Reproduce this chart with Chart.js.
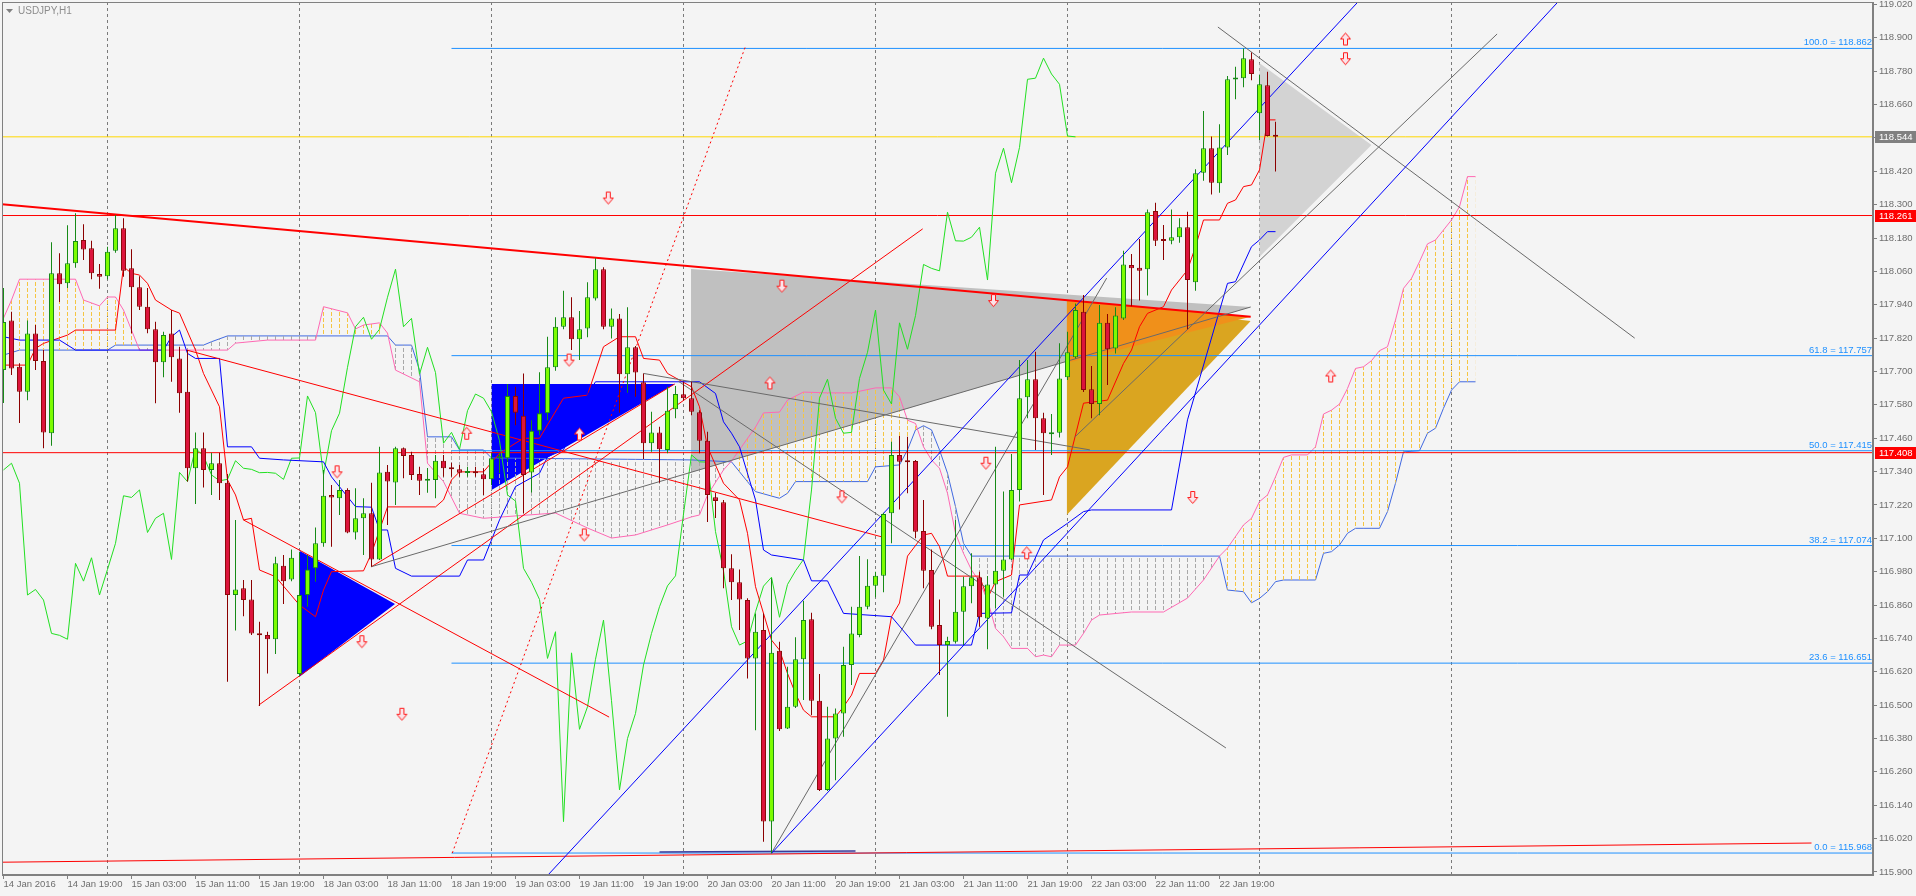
<!DOCTYPE html>
<html><head><meta charset="utf-8">
<script src="https://cdn.jsdelivr.net/npm/chart.js@4.4.1/dist/chart.umd.min.js"></script>
<style>html,body{margin:0;padding:0;background:#f4f4f4;overflow:hidden}canvas{display:block}</style>
</head><body>
<canvas id="c" width="1916" height="896"></canvas>
<script>
// ---------- DATA ----------
const xTickBars = [0,8,16,24,32,40,48,56,64,72,80,88,96,104,112,120,128,136,144,152];
const xTickLabels = ["14 Jan 2016","14 Jan 19:00","15 Jan 03:00","15 Jan 11:00","15 Jan 19:00","18 Jan 03:00","18 Jan 11:00","18 Jan 19:00","19 Jan 03:00","19 Jan 11:00","19 Jan 19:00","20 Jan 03:00","20 Jan 11:00","20 Jan 19:00","21 Jan 03:00","21 Jan 11:00","21 Jan 19:00","22 Jan 03:00","22 Jan 11:00","22 Jan 19:00"];
const yTicks = [115.900,116.020,116.140,116.260,116.380,116.500,116.620,116.740,116.860,116.980,117.100,117.220,117.340,117.460,117.580,117.700,117.820,117.940,118.060,118.180,118.300,118.420,118.540,118.660,118.780,118.900,119.020];
const dayBars = [13,37,61,85,109,133,157,181];

const opens = [117.705,117.883,117.717,117.627,117.837,117.738,117.478,118.053,118.017,118.089,
118.173,118.143,118.051,118.043,118.134,118.215,118.071,118.003,117.933,117.852,
117.733,117.837,117.747,117.627,117.352,117.424,117.346,117.370,117.300,116.896,
116.920,116.880,116.758,116.752,116.737,117.001,116.952,116.612,116.896,116.992,
117.082,117.256,117.244,117.274,117.121,117.172,117.190,117.024,117.339,117.301,
117.424,117.400,117.331,117.307,117.310,117.379,117.354,117.348,117.335,117.337,
117.330,117.312,117.388,117.388,117.612,117.541,117.337,117.487,117.550,117.715,
117.861,117.895,117.816,117.855,117.963,118.068,117.861,117.891,117.690,117.787,
117.661,117.442,117.481,117.418,117.564,117.618,117.604,117.553,117.451,117.248,
117.230,116.992,116.942,116.878,116.668,116.770,116.081,116.696,116.416,116.494,
116.665,116.809,116.516,116.195,116.380,116.470,116.644,116.752,116.854,116.929,
116.965,117.190,117.400,117.378,117.378,117.126,116.986,116.788,116.716,116.728,
116.836,116.928,116.960,116.812,116.934,116.983,117.024,117.274,117.607,117.672,
117.532,117.474,117.480,117.679,117.751,117.915,117.636,117.583,117.875,117.783,
117.891,118.083,118.073,118.068,118.277,118.173,118.170,118.183,118.219,118.021,
118.415,118.503,118.377,118.506,118.750,118.755,118.823,118.629,118.730,118.550];
const highs = [118.000,117.915,117.730,117.883,117.867,117.777,118.165,118.125,118.226,118.269,
118.230,118.170,118.087,118.149,118.263,118.251,118.140,118.043,118.000,117.879,
117.843,117.921,117.789,117.777,117.481,117.481,117.408,117.408,117.331,117.166,
116.950,116.950,116.800,116.764,117.034,117.040,117.060,117.051,117.040,117.139,
117.346,117.292,117.310,117.280,117.280,117.244,117.300,117.429,117.364,117.429,
117.427,117.411,117.357,117.353,117.400,117.400,117.372,117.364,117.357,117.357,
117.352,117.406,117.407,117.655,117.645,117.693,117.525,117.697,117.825,117.895,
117.990,117.967,117.918,118.021,118.107,118.075,117.927,117.907,117.931,117.792,
117.693,117.555,117.501,117.645,117.648,117.663,117.663,117.561,117.483,117.263,
117.238,117.043,116.988,116.884,116.830,116.830,116.956,116.728,116.638,116.744,
116.875,116.832,116.612,116.494,116.488,116.710,116.854,117.036,117.025,116.980,
117.192,117.447,117.468,117.465,117.382,117.238,117.060,116.880,116.746,117.166,
116.962,117.046,116.980,116.964,117.429,117.268,117.403,117.741,117.741,117.771,
117.552,117.547,117.802,117.843,117.945,117.975,117.720,117.939,117.907,117.931,
118.134,118.123,118.177,118.283,118.307,118.227,118.283,118.251,118.275,118.427,
118.637,118.545,118.589,118.763,118.796,118.862,118.847,118.766,118.778,118.598];
const lows = [117.587,117.687,117.515,117.597,117.705,117.424,117.433,117.950,118.000,118.073,
118.101,118.032,117.998,118.032,118.127,118.041,117.838,117.921,117.838,117.586,
117.679,117.663,117.552,117.304,117.223,117.283,117.256,117.238,116.584,116.768,
116.820,116.752,116.497,116.614,116.684,116.864,116.946,116.605,116.854,116.944,
117.070,117.070,117.184,117.118,117.096,117.040,116.998,117.022,117.148,117.220,
117.316,117.310,117.256,117.264,117.244,117.321,117.321,117.321,117.321,117.321,
117.256,117.292,117.335,117.375,117.507,117.190,117.265,117.471,117.525,117.703,
117.852,117.777,117.741,117.823,117.955,117.852,117.819,117.552,117.624,117.609,
117.385,117.411,117.300,117.406,117.532,117.597,117.543,117.406,117.159,117.173,
116.920,116.878,116.770,116.596,116.410,116.009,115.967,116.407,116.414,116.490,
116.518,116.464,116.191,116.191,116.230,116.386,116.572,116.744,116.845,116.888,
116.906,117.082,117.204,117.262,117.100,116.920,116.773,116.608,116.458,116.722,
116.716,116.866,116.782,116.701,116.848,116.890,117.022,117.232,117.532,117.418,
117.256,117.400,117.463,117.669,117.747,117.626,117.532,117.543,117.651,117.765,
117.885,117.935,117.955,117.973,118.151,118.101,118.158,118.163,117.852,117.990,
118.386,118.337,118.343,118.479,118.679,118.722,118.748,118.533,118.545,118.419];
const closes = [117.878,117.711,117.627,117.837,117.738,117.481,118.053,118.014,118.089,118.169,
118.139,118.053,118.041,118.131,118.215,118.062,118.003,117.933,117.852,117.733,
117.831,117.751,117.622,117.352,117.424,117.346,117.370,117.298,116.896,116.916,
116.878,116.758,116.751,116.737,117.010,116.946,117.030,116.896,116.988,117.082,
117.253,117.247,117.274,117.121,117.172,117.190,117.024,117.337,117.304,117.424,
117.396,117.328,117.307,117.312,117.379,117.352,117.348,117.336,117.337,117.334,
117.312,117.388,117.389,117.612,117.552,117.328,117.487,117.550,117.715,117.861,
117.895,117.816,117.852,117.967,118.068,117.861,117.891,117.690,117.787,117.696,
117.442,117.481,117.420,117.559,117.619,117.604,117.555,117.451,117.256,117.234,
116.992,116.942,116.880,116.668,116.764,116.081,116.688,116.413,116.494,116.665,
116.806,116.516,116.195,116.380,116.470,116.644,116.758,116.854,116.929,116.965,
117.187,117.400,117.375,117.374,117.124,116.983,116.782,116.716,116.731,116.836,
116.928,116.960,116.816,116.934,116.983,117.024,117.274,117.604,117.672,117.532,
117.478,117.481,117.675,117.769,117.921,117.633,117.583,117.875,117.780,117.901,
118.085,118.071,118.062,118.273,118.170,118.169,118.183,118.219,118.029,118.413,
118.503,118.379,118.506,118.751,118.755,118.827,118.770,118.733,118.547,118.544];

// Chikou span as drawn (starts at bar 0)
const chikou = [117.346,117.370,117.298,116.896,116.916,116.878,116.758,116.751,116.737,117.010,
116.946,117.030,116.896,116.988,117.082,117.253,117.247,117.274,117.121,117.172,
117.190,117.024,117.337,117.304,117.424,117.396,117.328,117.307,117.312,117.379,
117.352,117.348,117.336,117.337,117.334,117.312,117.388,117.389,117.612,117.552,
117.328,117.487,117.550,117.715,117.861,117.895,117.816,117.852,117.967,118.068,
117.861,117.891,117.690,117.787,117.696,117.442,117.481,117.420,117.559,117.619,
117.604,117.555,117.451,117.256,117.234,116.992,116.942,116.880,116.668,116.764,
116.081,116.688,116.413,116.494,116.665,116.806,116.516,116.195,116.380,116.470,
116.644,116.758,116.854,116.929,116.965,117.187,117.400,117.375,117.374,117.124,
116.983,116.782,116.716,116.731,116.836,116.928,116.960,116.816,116.934,116.983,
117.024,117.274,117.604,117.672,117.532,117.478,117.481,117.675,117.769,117.921,
117.633,117.583,117.875,117.780,117.901,118.085,118.071,118.062,118.273,118.170,
118.169,118.183,118.219,118.029,118.413,118.503,118.379,118.506,118.751,118.755,
118.827,118.770,118.733,118.547,118.544];

const tenkan = [[0,117.723],[3,117.723],[4,117.783],[5,117.801],[8,117.831],[9,117.849],[14,117.849],[15,118.077],[16,118.053],[17,118.047],[18,118.017],[19,117.957],[21,117.921],[22,117.910],[24,117.777],[25,117.693],[27,117.573],[28,117.310],[29,117.256],[30,117.166],[31,117.172],[32,116.986],[34,116.962],[37,116.860],[39,116.818],[40,116.914],[41,116.980],[45,116.983],[46,117.046],[48,117.213],[54,117.213],[55,117.238],[56,117.310],[57,117.339],[60,117.339],[62,117.406],[65,117.460],[67,117.460],[70,117.604],[73,117.615],[75,117.789],[77,117.825],[79,117.825],[80,117.747],[82,117.741],[83,117.693],[86,117.645],[87,117.573],[88,117.429],[90,117.298],[92,117.238],[93,117.118],[94,116.926],[96,116.734],[97,116.698],[98,116.614],[99,116.542],[100,116.482],[101,116.458],[104,116.458],[105,116.494],[106,116.536],[107,116.614],[109,116.614],[110,116.662],[111,116.818],[112,116.867],[113,117.036],[115,117.112],[116,117.118],[117,117.070],[118,116.964],[122,116.964],[123,116.884],[124,116.944],[126,116.968],[127,117.220],[131,117.238],[132,117.321],[133,117.357],[135,117.586],[138,117.597],[140,117.729],[141,117.777],[142,117.861],[143,117.909],[145,117.933],[146,117.993],[148,118.065],[149,118.149],[150,118.245],[152,118.245],[153,118.305],[154,118.317],[155,118.365],[156,118.371],[157,118.425],[158,118.605],[159,118.605]];
const kijun = [[0,117.825],[2,117.813],[7,117.813],[9,117.777],[20,117.777],[21,117.825],[22,117.849],[23,117.765],[24,117.747],[27,117.747],[28,117.429],[31,117.429],[32,117.388],[35,117.382],[40,117.375],[41,117.321],[44,117.214],[46,117.212],[47,117.130],[48,117.130],[49,116.992],[51,116.964],[57,116.964],[58,117.022],[60,117.022],[62,117.166],[64,117.286],[67,117.334],[68,117.393],[70,117.418],[73,117.615],[74,117.663],[87,117.663],[89,117.621],[90,117.519],[91,117.478],[92,117.429],[94,117.238],[95,117.058],[96,117.040],[100,117.022],[101,116.947],[103,116.947],[105,116.830],[111,116.818],[114,116.716],[121,116.716],[122,116.830],[126,116.832],[127,116.968],[128,116.968],[130,117.094],[133,117.154],[135,117.196],[136,117.202],[146,117.202],[148,117.526],[153,118.017],[154,118.023],[156,118.149],[157,118.173],[158,118.203],[159,118.203]];
const spanA = [[0,117.892],[1,117.957],[2,118.032],[9,118.032],[10,117.957],[12,117.936],[13,117.968],[14,117.968],[15,117.921],[17,117.777],[28,117.777],[29,117.802],[33,117.813],[39,117.813],[40,117.933],[43,117.911],[44,117.853],[45,117.867],[47,117.875],[48,117.838],[49,117.705],[52,117.663],[53,117.370],[55,117.304],[57,117.190],[60,117.172],[69,117.191],[73,117.137],[76,117.101],[79,117.112],[83,117.148],[86,117.177],[87,117.184],[88,117.256],[90,117.346],[91,117.378],[94,117.500],[95,117.551],[97,117.554],[98,117.597],[100,117.626],[103,117.623],[106,117.623],[109,117.641],[111,117.641],[112,117.609],[113,117.525],[114,117.513],[115,117.429],[116,117.382],[117,117.352],[118,117.262],[119,117.118],[120,117.046],[121,116.986],[122,116.944],[123,116.878],[124,116.776],[125,116.746],[126,116.704],[128,116.704],[129,116.674],[130,116.680],[131,116.674],[132,116.716],[134,116.716],[135,116.758],[136,116.806],[137,116.824],[141,116.835],[145,116.835],[148,116.885],[150,116.950],[152,117.036],[153,117.065],[155,117.148],[156,117.172],[157,117.232],[158,117.256],[159,117.321],[160,117.391],[161,117.400],[163,117.400],[164,117.429],[165,117.547],[166,117.561],[167,117.583],[168,117.639],[169,117.711],[170,117.717],[171,117.739],[172,117.775],[173,117.789],[174,117.885],[175,117.999],[176,118.035],[177,118.095],[178,118.159],[179,118.173],[180,118.209],[181,118.245],[182,118.293],[183,118.401],[184,118.401]];
const spanB = [[0,117.759],[2,117.777],[13,117.777],[14,117.795],[25,117.795],[26,117.807],[28,117.828],[48,117.828],[49,117.795],[51,117.795],[52,117.705],[53,117.465],[56,117.465],[57,117.418],[60,117.418],[61,117.389],[86,117.382],[91,117.375],[94,117.268],[97,117.244],[98,117.262],[99,117.304],[108,117.304],[109,117.357],[112,117.364],[113,117.418],[114,117.490],[115,117.505],[116,117.490],[117,117.418],[118,117.334],[119,117.214],[120,117.082],[121,117.036],[152,117.036],[153,116.914],[155,116.908],[156,116.868],[157,116.884],[158,116.908],[159,116.944],[160,116.950],[164,116.950],[165,117.046],[166,117.052],[167,117.076],[168,117.118],[169,117.136],[172,117.136],[173,117.196],[174,117.298],[175,117.411],[177,117.415],[178,117.478],[179,117.496],[180,117.568],[181,117.633],[182,117.663],[184,117.663]];

const fibLevels = [118.862,117.757,117.415,117.074,116.651,115.968];
const fibNames = ["100.0","61.8","50.0","38.2","23.6","0.0"];
const fibStartBar = 56;
const redLevels = [118.261,117.408];
const bidLevel = 118.544;

const redTrend = [[[-0.2,118.302],[155.9,117.897]]];
const redLines = [[[22.9,117.777],[109.8,117.105]],[[30.0,117.166],[75.7,116.457]],[[31.9,116.500],[114.9,118.213]],[[46.0,116.998],[83.9,117.655]],[[-0.2,115.935],[226.0,116.004]]];
const redDotted = [[56.1,115.968],[92.8,118.874]];
const navyBase = [[82.0,115.972],[106.5,115.975]];
const blueChannel = [[[68.06,115.889],[169.3,119.029]],[[96.0,115.967],[194.3,119.029]]];
const grayLines = [[[46.0,116.998],[155.9,117.932]],[[80.0,117.693],[135.8,117.418]],[[84.3,117.666],[152.8,116.346]],[[96.0,115.968],[137.9,118.036]],[[133.9,117.464],[186.7,118.914]],[[151.8,118.939],[203.9,117.820]]];

// triangles: [x0, x1, top, bottom, apex]
const triGray   = [85.94,155.9,118.069,117.337,117.932];
const triGold   = [132.9,155.9,117.957,117.184,117.882];
const triOrange = [132.9,155.9,117.957,117.731,117.897];
const triBlue1  = [37.0,48.94,117.055,116.602,116.864];
const triBlue2  = [61.0,83.94,117.655,117.274,117.655];
const triLight  = [156.98,171.0,118.810,118.112,118.515];

const arrowsDown = [[75.6,118.324],[167.75,118.825],[97.3,118.007],[123.75,117.955],[41.7,117.339],[104.8,117.249],[72.6,117.112],[44.8,116.728],[49.8,116.467],[122.8,117.370],[148.65,117.247],[70.7,117.741]];
const arrowsUp = [[167.75,118.896],[95.8,117.659],[57.9,117.478],[72.0,117.475],[127.9,117.048],[165.9,117.684]];

// ---------- CHART ----------
const cv = document.getElementById('c');
const ctx = cv.getContext('2d');
const FONT = '"Liberation Sans", Arial, sans-serif';

function stripe(color){
  const c = document.createElement('canvas'); c.width = 8; c.height = 6;
  const g = c.getContext('2d'); g.fillStyle = color; g.fillRect(3,0,1,4);
  return ctx.createPattern(c,'repeat');
}
function arrowImg(up){
  const c = document.createElement('canvas'); c.width = 13; c.height = 15;
  const g = c.getContext('2d');
  g.beginPath();
  if (!up){ g.moveTo(4.5,1.5); g.lineTo(8.5,1.5); g.lineTo(8.5,7.5); g.lineTo(11.5,7.5); g.lineTo(6.5,13.5); g.lineTo(1.5,7.5); g.lineTo(4.5,7.5); }
  else { g.moveTo(4.5,13.5); g.lineTo(8.5,13.5); g.lineTo(8.5,7.5); g.lineTo(11.5,7.5); g.lineTo(6.5,1.5); g.lineTo(1.5,7.5); g.lineTo(4.5,7.5); }
  g.closePath(); g.fillStyle = '#fbe4ea'; g.fill(); g.strokeStyle = '#ff1a1a'; g.lineWidth = 1; g.stroke();
  return c;
}

const datasets = [];
function addLine(pts, color, width, order, extra){
  datasets.push(Object.assign({type:'line', data: pts.map(p=>({x:p[0], y:p[1]})), borderColor: color, borderWidth: width, pointRadius: 0, fill: false, tension: 0, order: order}, extra || {}));
  return datasets.length - 1;
}
function addTri(t, color, order){
  const lo = addLine([[t[0],t[3]],[t[1],t[4]]], 'rgba(0,0,0,0)', 0, order);
  addLine([[t[0],t[2]],[t[1],t[4]]], 'rgba(0,0,0,0)', 0, order, {fill: lo, backgroundColor: color});
}
addTri(triGray, '#c0c0c0', 300);
addTri(triGold, '#daa520', 299);
addTri(triOrange, '#f0901a', 298);
addTri(triBlue1, '#0000ff', 297);
addTri(triBlue2, '#0000ff', 296);
addTri(triLight, '#d3d3d3', 295);

// cloud
const bIdx = addLine(spanB, '#4169e1', 1, 250);
addLine(spanA, '#ff69b4', 1, 249, {fill: {target: bIdx, above: stripe('#f5c542'), below: stripe('#a8a8a8')}});

// level lines
const XMIN = -0.1875, XMAX = 233.6875;
fibLevels.forEach(v => addLine([[fibStartBar, v],[XMAX, v]], '#1e90ff', 1, 200));
redLevels.forEach(v => addLine([[XMIN, v],[XMAX, v]], '#ff0000', 1, 200));
addLine([[XMIN, bidLevel],[XMAX, bidLevel]], '#ffd700', 1, 200);
addLine(navyBase, '#3a3a9a', 1.5, 199);

// indicators
addLine(chikou.map((v,i)=>[i,v]), '#22e022', 1, 180);
addLine(tenkan, '#ff0000', 1, 179);
addLine(kijun, '#0000ff', 1, 178);

// trend lines
blueChannel.forEach(l => addLine(l, '#0000ff', 1, 170));
grayLines.forEach(l => addLine(l, '#6a6a6a', 1, 170));
redLines.forEach(l => addLine(l, '#ff0000', 1, 170));
redTrend.forEach(l => addLine(l, '#ff0000', 2, 170));
addLine(redDotted, '#ff0000', 1, 170, {borderDash:[2,3]});

// candles
const bull = closes.map((c,i)=> c >= opens[i]);
datasets.push({type:'bar', order: 60, grouped:false, barThickness:1, maxBarThickness:1, borderWidth:0, borderSkipped:false, inflateAmount:0,
  data: opens.map((o,i)=>({x:i, y:[lows[i], highs[i]]})),
  backgroundColor: bull.map(b => b ? '#178a17' : '#8b0000')});
datasets.push({type:'bar', order: 59, grouped:false, barThickness:5, maxBarThickness:5, borderWidth:1, borderSkipped:false, inflateAmount:0, minBarLength:2,
  data: opens.map((o,i)=>({x:i, y:[o, closes[i]]})),
  backgroundColor: bull.map(b => b ? '#7cfc00' : '#dc143c'),
  borderColor: bull.map(b => b ? '#178a17' : '#8b0a0a')});

// arrows
datasets.push({type:'scatter', order: 10, data: arrowsDown.map(p=>({x:p[0], y:p[1]})), pointStyle: arrowImg(false), pointRadius: 6, showLine:false});
datasets.push({type:'scatter', order: 10, data: arrowsUp.map(p=>({x:p[0], y:p[1]})), pointStyle: arrowImg(true), pointRadius: 6, showLine:false});

const decor = {
  id: 'decor',
  beforeDraw(chart){
    const c = chart.ctx; c.save(); c.fillStyle = '#f4f4f4'; c.fillRect(0,0,chart.width,chart.height); c.restore();
  },
  beforeDatasetsDraw(chart){
    const c = chart.ctx, a = chart.chartArea, x = chart.scales.x;
    c.save(); c.strokeStyle = '#7a7a7a'; c.lineWidth = 1; c.setLineDash([3,3]);
    dayBars.forEach(b => { const px = Math.floor(x.getPixelForValue(b)) + 0.5; c.beginPath(); c.moveTo(px, a.top); c.lineTo(px, a.bottom); c.stroke(); });
    c.restore();
  },
  afterDatasetsDraw(chart){
    const c = chart.ctx, a = chart.chartArea, y = chart.scales.y;
    c.save();
    c.font = '9.5px ' + FONT; c.fillStyle = '#1e90ff'; c.textAlign = 'right'; c.textBaseline = 'bottom';
    fibLevels.forEach((v,i) => { const py = Math.round(y.getPixelForValue(v)); c.fillText(fibNames[i] + ' = ' + v.toFixed(3), a.right - 1, py - 1); });
    c.strokeStyle = '#808080'; c.lineWidth = 1;
    c.strokeRect(a.left + 0.5, a.top + 0.5, a.right - a.left - 1, a.bottom - a.top - 1);
    c.fillStyle = '#808080'; c.beginPath(); c.moveTo(6,9); c.lineTo(13,9); c.lineTo(9.5,13); c.closePath(); c.fill();
    c.font = '10px ' + FONT; c.textAlign = 'left'; c.textBaseline = 'middle'; c.fillStyle = '#8c8c8c';
    c.fillText('USDJPY,H1', 18, 11);
    c.restore();
  },
  afterDraw(chart){
    const c = chart.ctx, a = chart.chartArea, y = chart.scales.y;
    c.save(); c.font = '9.5px ' + FONT; c.textAlign = 'left'; c.textBaseline = 'middle';
    [[bidLevel,'#808080'],[redLevels[0],'#ff0000'],[redLevels[1],'#ff0000']].forEach(([v,col]) => {
      const py = Math.round(y.getPixelForValue(v));
      c.fillStyle = col; c.fillRect(a.right + 2, py - 6, chart.width - a.right - 2, 12);
      c.fillStyle = '#ffffff'; c.fillText(v.toFixed(3), a.right + 6, py + 0.5);
    });
    c.restore();
  }
};

new Chart(ctx, {
  type: 'bar',
  data: { datasets },
  options: {
    responsive: false, animation: false, devicePixelRatio: 1, events: [],
    layout: { autoPadding: false, padding: { left: 2, top: 2, right: 0, bottom: 0 } },
    plugins: { legend: { display: false }, tooltip: { enabled: false } },
    elements: { point: { radius: 0, hitRadius: 0 }, line: { tension: 0 } },
    scales: {
      x: {
        type: 'linear', min: XMIN, max: XMAX, offset: false, bounds: 'data',
        afterBuildTicks: s => { s.ticks = xTickBars.map(v => ({value: v})); },
        afterFit: s => { s.height = 21; s.paddingLeft = 0; s.paddingRight = 0; },
        grid: { drawOnChartArea: false, drawTicks: true, tickLength: 4, color: '#808080', offset: false },
        border: { display: true, color: '#808080' },
        ticks: { autoSkip: false, maxRotation: 0, minRotation: 0, align: 'start', padding: 0, color: '#6e6e6e',
          font: { family: FONT, size: 9.5 },
          callback: v => { const k = xTickBars.indexOf(Math.round(v)); return k >= 0 ? xTickLabels[k] : ''; } }
      },
      y: {
        type: 'linear', position: 'right', min: 115.889, max: 119.029, beginAtZero: false, bounds: 'data',
        afterBuildTicks: s => { s.ticks = yTicks.map(v => ({value: v})); },
        afterFit: s => { s.width = 43; s.paddingTop = 0; s.paddingBottom = 0; },
        grid: { drawOnChartArea: false, drawTicks: true, tickLength: 4, color: '#808080' },
        border: { display: true, color: '#808080' },
        ticks: { autoSkip: false, padding: 2, color: '#6e6e6e', font: { family: FONT, size: 9.5 },
          callback: v => Number(v).toFixed(3) }
      }
    }
  },
  plugins: [decor]
});
</script>
</body></html>
